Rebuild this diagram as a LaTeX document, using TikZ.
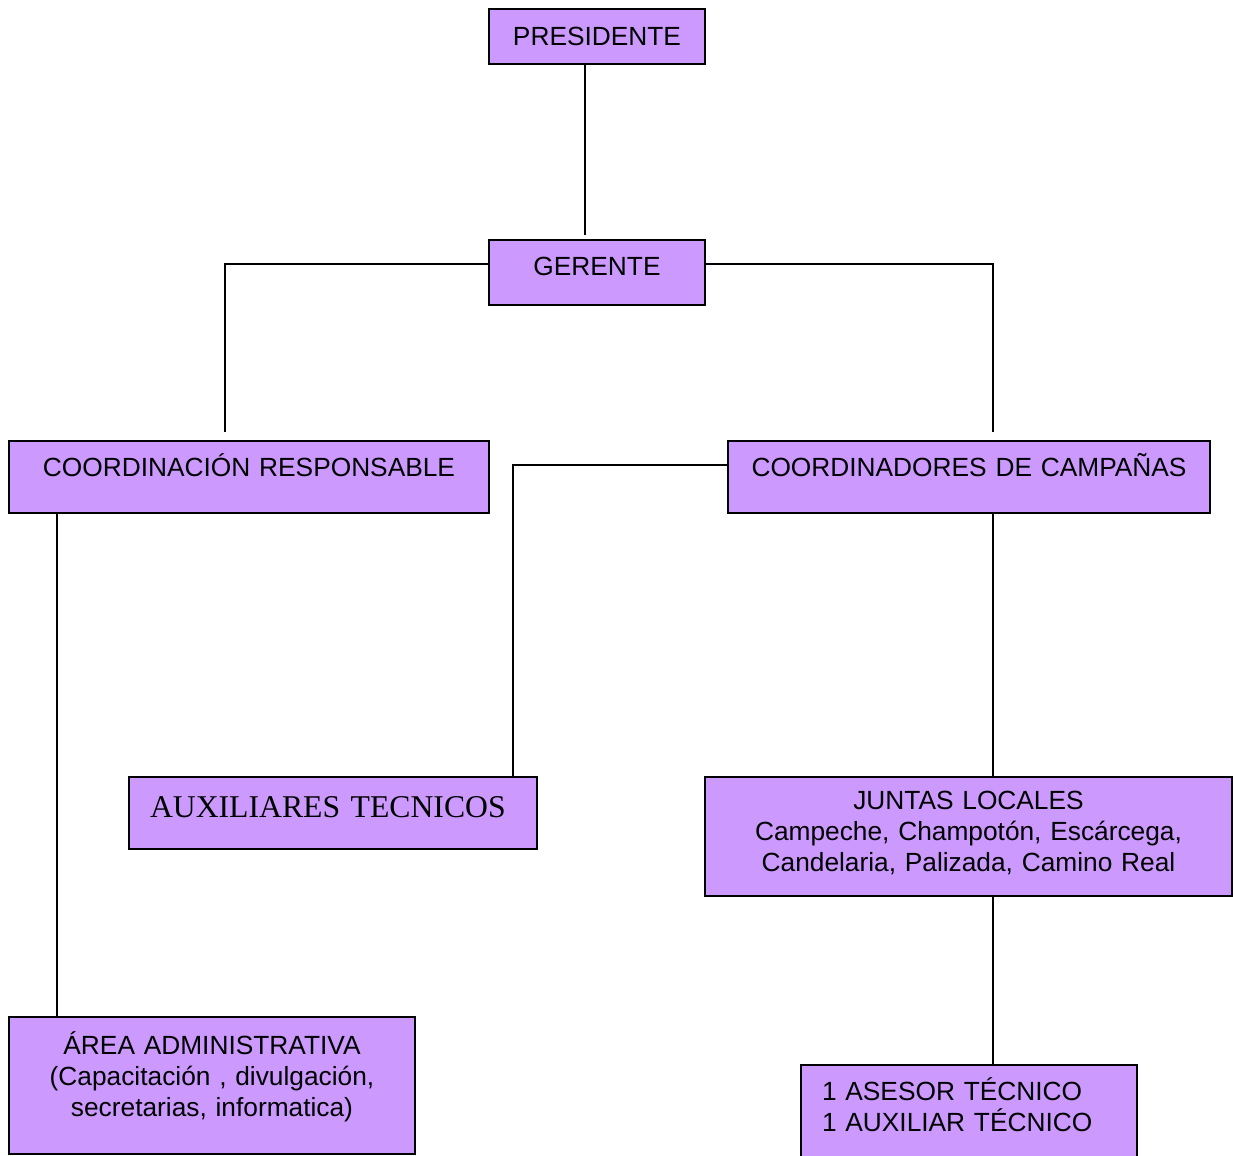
\documentclass[tikz,border=0pt]{standalone}
\usepackage{fontspec}
\setmainfont{Liberation Sans}
\newfontfamily\serifface{Liberation Serif}
\usetikzlibrary{calc}
\definecolor{ChartLila}{HTML}{CC99FF}

\begin{document}
\begin{tikzpicture}[
    x=0.5pt,
    y=-0.5pt,
    font=\fontsize{13.15}{15.5}\selectfont,
    box/.style={draw=black, line width=1pt, fill=ChartLila, anchor=north west, outer sep=0pt, inner xsep=0pt, inner ysep=0pt, align=center},
    leftbox/.style={box, align=left, inner xsep=10.5pt},
    link/.style={draw=black, line width=0.9pt}
  ]
    \path[fill=white, use as bounding box] (0,0) rectangle (1233,1156);

    \node[box, text width=108pt, text height=18.5pt, text depth=9pt] (presidente) at (489,9) {PRESIDENTE};
    \node[box, text width=108pt, text height=18pt, text depth=14.5pt] (gerente) at (489,240) {GERENTE};
    \node[box, text width=240pt, text height=17.5pt, text depth=18.5pt] (coordresp) at (9,441) {COORDINACIÓN RESPONSABLE};
    \node[box, text width=241pt, text height=17.5pt, text depth=18.5pt] (coordcamp) at (728,441) {COORDINADORES DE CAMPAÑAS};
    \node[leftbox, text width=183pt, text height=20pt, text depth=16pt, font=\serifface\fontsize{15.85}{19}\selectfont] (auxtec) at (129,777) {AUXILIARES TECNICOS};
    \node[box, text width=263.5pt, text height=16pt, text depth=43.5pt] (juntas) at (705,777) {JUNTAS LOCALES\\Campeche, Champotón, Escárcega,\\Candelaria, Palizada, Camino Real};
    \node[box, text width=203pt, text height=18.5pt, text depth=50pt] (areaadm) at (9,1017) {ÁREA ADMINISTRATIVA\\(Capacitación , divulgación,\\secretarias, informatica)};
    \node[leftbox, text width=147pt, text height=17.5pt, text depth=37.5pt] (asesor) at (801,1065) {1 ASESOR TÉCNICO\\1 AUXILIAR TÉCNICO};

    \draw[link] ([xshift=-6pt]presidente.south) -- ([xshift=-6pt,yshift=2.5pt]presidente.south |- gerente.north);
    \draw[link] ([yshift=4.25pt]gerente.west) -| ([xshift=-12pt,yshift=4.5pt]coordresp.north);
    \draw[link] ([yshift=4.25pt]gerente.east) -| ([xshift=12pt,yshift=4.5pt]coordcamp.north);
    \draw[link] ([yshift=6pt]coordcamp.west) -| ([xshift=90pt]auxtec.north);
    \draw[link] ([xshift=12pt]coordcamp.south) -- ([xshift=12pt]coordcamp.south |- juntas.north);
    \draw[link] ([xshift=-96pt]coordresp.south) -- ([xshift=-96pt]coordresp.south |- areaadm.north);
    \draw[link] ([xshift=12.25pt]juntas.south) -- ([xshift=12.25pt]juntas.south |- asesor.north);
  \end{tikzpicture}
\end{document}
